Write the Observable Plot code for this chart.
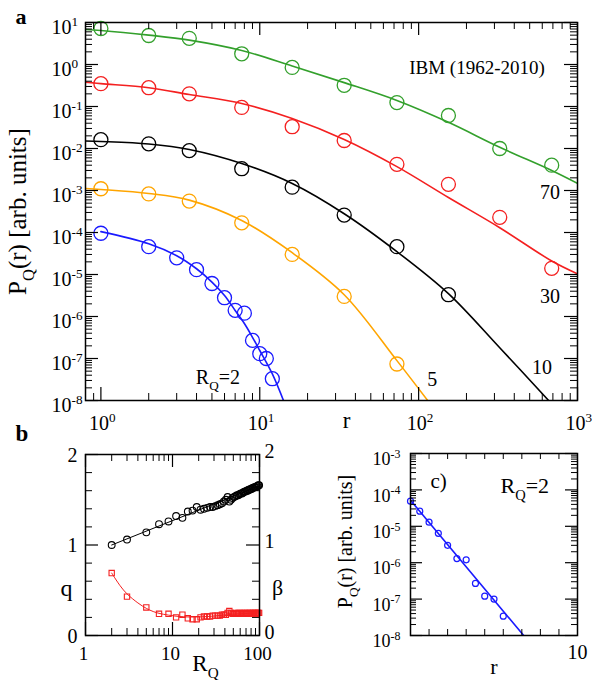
<!DOCTYPE html>
<html>
<head>
<meta charset="utf-8">
<script src="https://cdn.jsdelivr.net/npm/d3@7"></script>
<script src="https://cdn.jsdelivr.net/npm/@observablehq/plot@0.6"></script>
<style>
  html, body { margin: 0; padding: 0; background: #fff; }
  #fig { position: relative; width: 592px; height: 680px; overflow: hidden; background: #fff; font-family: "Liberation Serif", serif; }
  #fig > svg { position: absolute; }
  #fig text { font-family: "Liberation Serif", serif; }
  #fig text.bold-label { font-family: "Liberation Sans", sans-serif; }
</style>
</head>
<body>
<div id="fig"></div>
<script>
// ---------- Panel a: P_Q(r) for several thresholds R_Q ----------
const rA = [1, 2, 3.6, 7.7, 16, 34, 73, 154, 324, 688];
const p70 = [7.2, 4.9, 4.2, 1.8, 0.85, 0.32, 0.124, 0.061, 0.010, 0.0040];
const p30 = [0.35, 0.28, 0.20, 0.095, 0.033, 0.0155, 0.0042, 0.0014, 2.3e-4, 1.4e-5];
const p10 = [0.0162, 0.0129, 0.0089, 0.0033, 0.0012, 2.6e-4, 4.6e-5, 3.3e-6];
const p5 = [1.1e-3, 8.3e-4, 5.6e-4, 1.7e-4, 3.0e-5, 3.0e-6, 7.4e-8];
const rQ2 = [1, 2, 3, 4, 5, 6, 7, 8, 9, 10, 11, 12];
const p2 = [9.6e-5, 4.6e-5, 2.5e-5, 1.3e-5, 6.1e-6, 2.8e-6, 1.4e-6, 1.2e-6, 2.7e-7, 1.3e-7, 1.0e-7, 3.3e-8];

// fitted curves
const fitR = [0.8, 1, 2, 3.6, 7.7, 16, 34, 73, 154, 324, 688, 1000];
const fit70 = [6.8, 6.45, 5.0, 3.8, 2.15, 0.92, 0.37, 0.139, 0.042, 0.0107, 0.0030, 0.00148];
const fit30 = [0.38, 0.35, 0.28, 0.193, 0.118, 0.052, 0.0164, 0.0037, 6.8e-4, 1.3e-4, 2.1e-5, 1.04e-5];
const fit10R = [0.8, 1, 2, 3.6, 7.7, 16, 34, 73, 154, 324, 658];
const fit10 = [0.0151, 0.0147, 0.0128, 0.0095, 0.0044, 0.00147, 2.8e-4, 3.5e-5, 3.5e-6, 1.8e-7, 1e-8];
const fit5R = [0.8, 1, 2, 3.6, 7.7, 16, 34, 73, 114];
const fit5 = [1.12e-3, 1.06e-3, 8.5e-4, 5.9e-4, 1.93e-4, 3.3e-5, 3.3e-6, 8.9e-8, 1e-8];
const fit2R = [1, 2, 3, 4, 5, 6, 7, 8, 9, 10, 12, 14.1];
const fit2 = [1.05e-4, 5.4e-5, 2.8e-5, 1.37e-5, 6.6e-6, 3.16e-6, 1.39e-6, 6.8e-7, 3.2e-7, 1.55e-7, 4.3e-8, 1e-8];

const aXExp = [0, 1, 2, 3];
const aYExp = [-8, -7, -6, -5, -4, -3, -2, -1, 0, 1];

// ---------- Panel b: fit parameters q and beta versus R_Q ----------
const RQ = [2, 3, 5, 7, 9, 11, 13, 15, 17, 19, 21, 23, 25, 27, 29, 31, 33, 35, 37, 39,
  41, 43, 45, 47, 49, 51, 53, 55, 57, 59, 61, 63, 65, 67, 69, 71, 73, 75, 77, 79,
  81, 83, 85, 87, 89, 91, 93, 95, 97, 99];
const qVals = [1.00, 1.06, 1.14, 1.23, 1.26, 1.32, 1.30, 1.37, 1.38, 1.42, 1.39, 1.40, 1.41, 1.42, 1.42, 1.43, 1.44, 1.45, 1.46, 1.48,
  1.50, 1.53, 1.48, 1.50, 1.52, 1.53, 1.54, 1.55, 1.55, 1.56, 1.57, 1.57, 1.58, 1.59, 1.59, 1.60, 1.60, 1.61, 1.61, 1.62,
  1.62, 1.63, 1.63, 1.64, 1.64, 1.64, 1.65, 1.65, 1.66, 1.66];
const betaVals = [0.69, 0.43, 0.31, 0.24, 0.24, 0.20, 0.23, 0.19, 0.18, 0.18, 0.20, 0.21, 0.21, 0.21, 0.22, 0.22, 0.22, 0.22, 0.23, 0.23,
  0.23, 0.25, 0.27, 0.25, 0.24, 0.24, 0.25, 0.24, 0.25, 0.25, 0.24, 0.25, 0.24, 0.25, 0.25, 0.24, 0.25, 0.24, 0.25, 0.25,
  0.24, 0.25, 0.25, 0.24, 0.25, 0.25, 0.24, 0.25, 0.25, 0.25];
const qFitR = [2, 100];
const qFit = [1.0, 1.655];
const betaFitR = [2, 2.5, 3, 4, 5, 6, 7, 9, 12, 15, 20, 30, 50, 100];
const betaFit = [0.69, 0.55, 0.46, 0.36, 0.30, 0.265, 0.245, 0.225, 0.21, 0.205, 0.205, 0.215, 0.235, 0.25];
const bXTicks = [1, 10, 100];
const bYTicks = [0, 1, 2];

// ---------- Panel c: R_Q = 2 on a semi-log scale ----------
const cX = [1, 1.5, 2, 2.5, 3, 3.5, 4, 4.5, 5, 5.5, 6];
const cP = [4.9e-5, 2.6e-5, 1.3e-5, 6.4e-6, 3.0e-6, 1.3e-6, 1.2e-6, 2.7e-7, 1.2e-7, 1.0e-7, 3.4e-8];
const cFitX = [1, 7.1];
const cFitP = [5.2e-5, 1e-8];
const cXLabels = [10];
const cYExp = [-8, -7, -6, -5, -4, -3];

// ---------- colours and fonts ----------
const GREEN = "#33a02c", RED = "#f42020", BLACK = "#000", ORANGE = "#ffa500", BLUE = "#1a1aff";
const SERIF = "Liberation Serif";
const SANS = "Liberation Sans";

// ---------- helpers ----------
const rows = (xs, ys) => xs.map((x, i) => ({x, y: ys[i]}));

function logMinor(lo, hi) {
  const out = [];
  for (let e = Math.floor(Math.log10(lo)) - 1; e <= Math.ceil(Math.log10(hi)); e++)
    for (let k = 2; k <= 9; k++) {
      const v = k * 10 ** e;
      if (v >= lo * 0.999 && v <= hi * 1.001) out.push(v);
    }
  return out;
}

// inward ticks on all four sides of the frame
function frameTicks(xt, yt, len, W, H, sw = 1) {
  return [
    Plot.tickX(xt, {x: d => d, insetTop: H - len, stroke: "black", strokeWidth: sw}),
    Plot.tickX(xt, {x: d => d, insetBottom: H - len, stroke: "black", strokeWidth: sw}),
    Plot.tickY(yt, {y: d => d, insetRight: W - len, stroke: "black", strokeWidth: sw}),
    Plot.tickY(yt, {y: d => d, insetLeft: W - len, stroke: "black", strokeWidth: sw})
  ];
}

// serif text with centred line anchor unless told otherwise
function label(data, opts) {
  return Plot.text(data, {fontFamily: SERIF, lineAnchor: "middle", textAnchor: "middle", ...opts});
}

// turn ^{..} and _{..} in text marks into raised / lowered tspans
function richText(svg) {
  d3.select(svg).selectAll("text").each(function () {
    const s = this.textContent;
    if (!/[_^]\{/.test(s)) return;
    const size = parseFloat(getComputedStyle(this).fontSize);
    const parts = s.split(/([_^]\{[^}]*\})/).filter(p => p.length);
    const el = d3.select(this);
    el.text(null);
    let shift = 0;
    for (const p of parts) {
      let target = 0, str = p, small = false;
      if (p[0] === "^") { target = -0.42 * size; str = p.slice(2, -1); small = true; }
      else if (p[0] === "_") { target = 0.32 * size; str = p.slice(2, -1); small = true; }
      const ts = el.append("tspan").attr("dy", target - shift).text(str);
      if (small) ts.attr("font-size", (size * 0.66).toFixed(1));
      shift = target;
    }
  });
}

const fig = document.getElementById("fig");
function place(svg, left, top) {
  svg.style.left = left + "px";
  svg.style.top = top + "px";
  fig.appendChild(svg);
  richText(svg);
}

// ================= Panel a =================
{
  const W = 592, H = 440, mL = 85, mR = 15, mT = 22, mB = 40;
  const FW = W - mL - mR, FH = H - mT - mB;
  const xMaj = aXExp.map(e => 10 ** e);
  const yMaj = aYExp.map(e => 10 ** e);
  const series = [
    {pts: rows(rA, p70), fit: rows(fitR, fit70), c: GREEN},
    {pts: rows(rA, p30), fit: rows(fitR, fit30), c: RED},
    {pts: rows(rA.slice(0, p10.length), p10), fit: rows(fit10R, fit10), c: BLACK},
    {pts: rows(rA.slice(0, p5.length), p5), fit: rows(fit5R, fit5), c: ORANGE},
    {pts: rows(rQ2, p2), fit: rows(fit2R, fit2), c: BLUE}
  ];
  const notes = [
    {x: 671, y: 8.7e-4, t: "70"},
    {x: 672, y: 2.9e-6, t: "30"},
    {x: 598, y: 6.2e-8, t: "10"},
    {x: 122, y: 3.2e-8, t: "5"}
  ];
  const svg = Plot.plot({
    width: W, height: H,
    marginLeft: mL, marginRight: mR, marginTop: mT, marginBottom: mB,
    x: {type: "log", domain: [0.8, 1000], axis: null},
    y: {type: "log", domain: [1e-8, 10], axis: null},
    style: {background: "transparent", overflow: "visible"},
    marks: [
      ...series.map(s => Plot.line(s.fit, {x: "x", y: "y", stroke: s.c, strokeWidth: 1.6, curve: "catmull-rom", clip: true})),
      ...series.map(s => Plot.dot(s.pts, {x: "x", y: "y", r: 7, stroke: s.c, strokeWidth: 1.3})),
      ...frameTicks(xMaj, yMaj, 13, FW, FH, 1.2),
      ...frameTicks(logMinor(0.8, 1000), logMinor(1e-8, 10), 7, FW, FH, 1),
      Plot.frame({stroke: "black", strokeWidth: 1.5}),
      label(aYExp, {y: e => 10 ** e, frameAnchor: "left", text: e => `10^{${e}}`, textAnchor: "start", dx: -34, dy: 5, fontSize: 20}),
      label(aXExp, {x: e => 10 ** e, frameAnchor: "bottom", text: e => `10^{${e}}`, textAnchor: "start", dx: -12, dy: 23, fontSize: 20}),
      label(["r"], {frameAnchor: "bottom", dx: 15, dy: 20, fontSize: 23}),
      label(["P_{Q}(r) [arb. units]"], {frameAnchor: "left", rotate: -90, dx: -68, fontSize: 25}),
      label(notes, {x: "x", y: "y", text: "t", fontSize: 20}),
      label([{x: 233, y: 0.81}], {x: "x", y: "y", text: () => "IBM (1962-2010)", fontSize: 19}),
      label([{x: 3.96, y: 3.6e-8}], {x: "x", y: "y", text: () => "R_{Q}=2", textAnchor: "start", fontSize: 20}),
      Plot.text(["a"], {frameAnchor: "top-left", dx: -70, dy: -6, textAnchor: "start", lineAnchor: "middle", className: "bold-label", fontFamily: SANS, fontWeight: "bold", fontSize: 22})
    ]
  });
  place(svg, 0, 0);
}

// ================= Panel b =================
{
  const W = 300, H = 240, mL = 85, mR = 41, mT = 14, mB = 45;
  const FW = W - mL - mR, FH = H - mT - mB;
  const yMinor = [0.2, 0.4, 0.6, 0.8, 1.2, 1.4, 1.6, 1.8];
  const svg = Plot.plot({
    width: W, height: H,
    marginLeft: mL, marginRight: mR, marginTop: mT, marginBottom: mB,
    x: {type: "log", domain: [1, 100], axis: null},
    y: {domain: [0, 2], axis: null},
    style: {background: "transparent", overflow: "visible"},
    marks: [
      ...frameTicks(bXTicks, bYTicks, 13, FW, FH, 1.2),
      ...frameTicks(logMinor(1, 100), yMinor, 7, FW, FH, 1),
      Plot.line(rows(qFitR, qFit), {x: "x", y: "y", stroke: BLACK, strokeWidth: 1}),
      Plot.line(rows(betaFitR, betaFit), {x: "x", y: "y", stroke: RED, strokeWidth: 1, curve: "catmull-rom"}),
      Plot.dot(rows(RQ, qVals), {x: "x", y: "y", r: 3.4, stroke: BLACK, strokeWidth: 1.1}),
      Plot.dot(rows(RQ, betaVals), {x: "x", y: "y", r: 3, symbol: "square", stroke: RED, strokeWidth: 1.1}),
      Plot.frame({stroke: "black", strokeWidth: 1.5}),
      label(bYTicks, {y: d => d, frameAnchor: "left", text: d => String(d), textAnchor: "end", dx: -8, dy: 1, fontSize: 20}),
      label(bYTicks, {y: d => d, frameAnchor: "right", text: d => String(d), textAnchor: "start", dx: 5, dy: -3, fontSize: 20}),
      label(bXTicks, {x: d => d, frameAnchor: "bottom", text: d => String(d), dx: -2, dy: 18, fontSize: 19}),
      label(["R_{Q}"], {frameAnchor: "bottom", dx: 33, dy: 28, fontSize: 23}),
      label(["q"], {frameAnchor: "left", dx: -19, dy: 43, fontSize: 24}),
      label(["β"], {frameAnchor: "right", dx: 18, dy: 43, fontSize: 22}),
      Plot.text(["b"], {frameAnchor: "top-left", dx: -70, dy: -21, textAnchor: "start", lineAnchor: "middle", className: "bold-label", fontFamily: SANS, fontWeight: "bold", fontSize: 23})
    ]
  });
  place(svg, 0, 440);
}

// ================= Panel c =================
{
  const W = 292, H = 240, mL = 110, mR = 15, mT = 13, mB = 45;
  const FW = W - mL - mR, FH = H - mT - mB;
  const yMaj = cYExp.map(e => 10 ** e);
  const svg = Plot.plot({
    width: W, height: H,
    marginLeft: mL, marginRight: mR, marginTop: mT, marginBottom: mB,
    x: {domain: [1, 10], axis: null},
    y: {type: "log", domain: [1e-8, 1e-3], axis: null},
    style: {background: "transparent", overflow: "visible"},
    marks: [
      Plot.line(rows(cFitX, cFitP), {x: "x", y: "y", stroke: BLUE, strokeWidth: 1.6, clip: true}),
      Plot.dot(rows(cX, cP), {x: "x", y: "y", r: 3, stroke: BLUE, strokeWidth: 1.2}),
      ...frameTicks([], yMaj, 12, FW, FH, 1.2),
      ...frameTicks([2, 3, 4, 5, 6, 7, 8, 9], logMinor(1e-8, 1e-3), 6, FW, FH, 1),
      Plot.frame({stroke: "black", strokeWidth: 1.5}),
      label(cYExp, {y: e => 10 ** e, frameAnchor: "left", text: e => `10^{${e}}`, textAnchor: "start", dx: -38, dy: 6, fontSize: 18}),
      label(cXLabels, {x: d => d, frameAnchor: "bottom", text: d => String(d), dy: 17, fontSize: 20}),
      label(["r"], {frameAnchor: "bottom", dy: 31, fontSize: 22}),
      label(["P_{Q}(r) [arb. units]"], {frameAnchor: "left", rotate: -90, dx: -65, dy: -3, fontSize: 20}),
      label(["c)"], {frameAnchor: "top-left", dx: 20, dy: 28, textAnchor: "start", fontSize: 21}),
      label(["R_{Q}=2"], {frameAnchor: "top-left", dx: 90, dy: 32, textAnchor: "start", fontSize: 22})
    ]
  });
  place(svg, 300, 440);
}
</script>
</body>
</html>
